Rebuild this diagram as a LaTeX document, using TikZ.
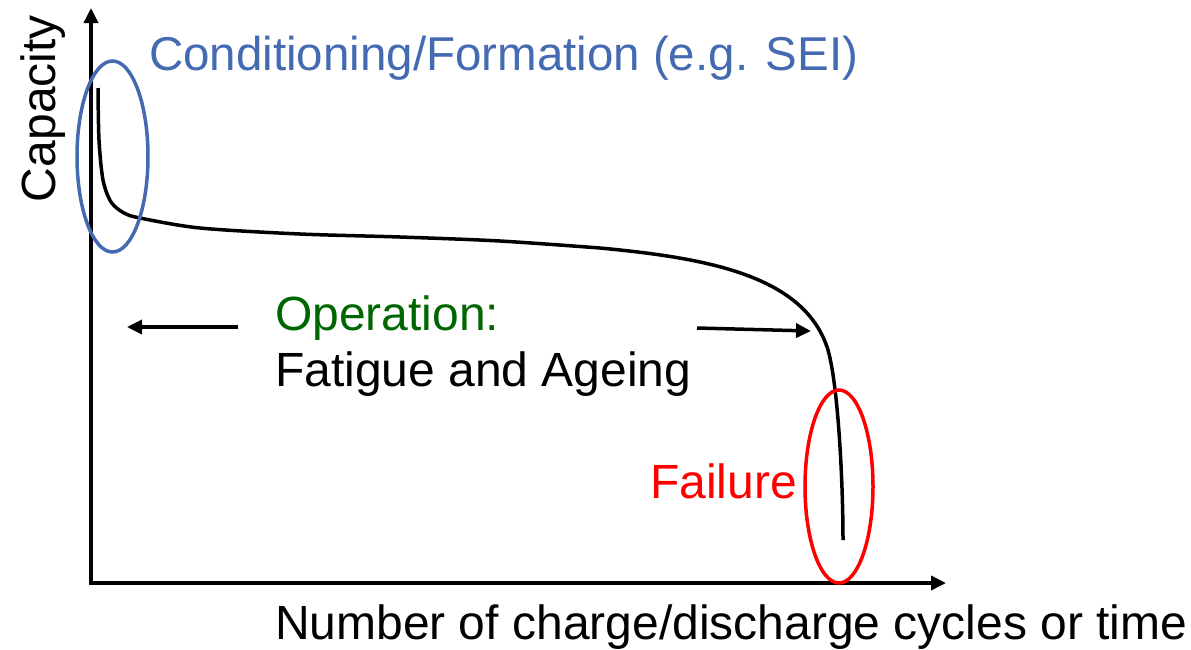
\documentclass[tikz,border=0pt]{standalone}
\usepackage{fontspec}
\setmainfont{Liberation Sans}
\usetikzlibrary{arrows.meta}
\definecolor{condblue}{RGB}{68,106,178}
\definecolor{opgreen}{RGB}{0,102,0}
\definecolor{failred}{RGB}{255,0,0}
\tikzset{
  lbl/.style={inner sep=0pt, outer sep=0pt, font=\fontsize{48}{56}\selectfont},
  axisline/.style={line width=3.5pt, -{Triangle[length=15pt,width=14pt]}},
  arr/.style={line width=3.5pt, -{Triangle[length=15pt,width=14pt]}},
  curve/.style={line width=3.5pt, line join=round},
  ring/.style={line width=3.5pt},
}
\begin{document}
\begin{tikzpicture}[x=1pt,y=-1pt]
\useasboundingbox (0,0) rectangle (1191,649);
% axes
\coordinate (origin) at (91,583);
\coordinate (ytip) at (91,8);
\coordinate (xtip) at (946,583);
\draw[axisline] ([yshift=-1.75pt]origin) -- (ytip);
\draw[axisline] ([xshift=-1.75pt]origin) -- (xtip);
% capacity curve
\draw[curve] plot[smooth, tension=0.5] coordinates {
 (98,88) (99,140) (103,180) (111,202) (124,213) (140,218) (200,228)
 (300,234) (400,237) (500,241) (600,248)}
 .. controls (706,258) and (805,275) .. (828,350)
 .. controls (838,385) and (843,480) .. (843,540);
% ellipses
\draw[ring, condblue] (112.5,156.5) ellipse [x radius=35.5, y radius=95.5];
\draw[ring, failred] (839,486.5) ellipse [x radius=34, y radius=96.5];
% arrows
\coordinate (la1) at (238,327);
\coordinate (la2) at (127,327);
\coordinate (ra1) at (697,328);
\coordinate (ra2) at (811,331);
\draw[arr] (la1) -- (la2);
\draw[arr] (ra1) -- (ra2);
% labels
\node[lbl, anchor=base west, text=condblue, font=\fontsize{47.5}{56}\selectfont] (cond) at (149,70) {Conditioning/Formation (e.g. SEI)};
\node[lbl, anchor=base west, text=opgreen] (oper) at (275,330) {Operation:};
\node[lbl, anchor=base west] (fat) at (275,386) {Fatigue and Ageing};
\node[lbl, anchor=base west, text=failred] (fail) at (650,498) {Failure};
\node[lbl, anchor=base west] (xlab) at (275,639) {Number of charge/discharge cycles or time};
\node[lbl, anchor=base west, rotate=90] (ylab) at (55,202) {Capacity};
\end{tikzpicture}
\end{document}
